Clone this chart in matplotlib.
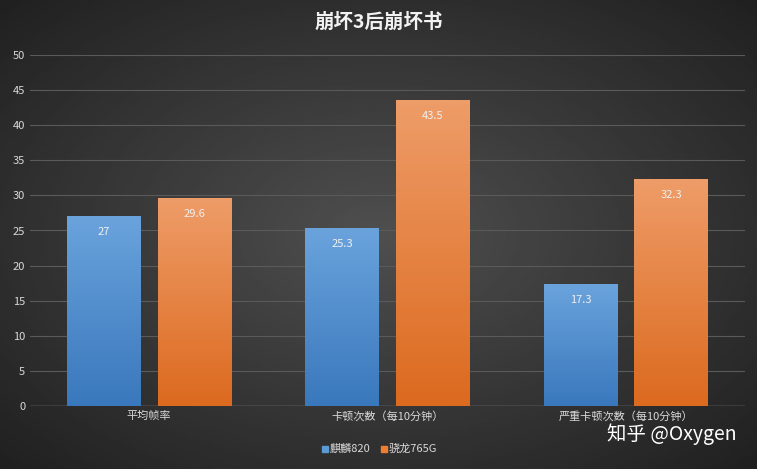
import numpy as np
import matplotlib.pyplot as plt
from matplotlib.patches import Rectangle
from matplotlib.colors import LinearSegmentedColormap

plt.rcParams['font.family'] = 'sans-serif'
plt.rcParams['font.sans-serif'] = ['Noto Sans CJK SC', 'Noto Sans CJK JP', 'DejaVu Sans']

categories = ['平均帧率', '卡顿次数（每10分钟）', '严重卡顿次数（每10分钟）']
series_names = ['麒麟820', '骁龙765G']
kirin = [27, 25.3, 17.3]
snap = [29.6, 43.5, 32.3]
yticks = [0, 5, 10, 15, 20, 25, 30, 35, 40, 45, 50]

fig = plt.figure(figsize=(7.57, 4.69), dpi=100)
# background radial gradient
bg = fig.add_axes([0, 0, 1, 1])
yy, xx = np.mgrid[-1:1:200j, -1:1:300j]
r = np.sqrt(xx**2 + yy**2)
bg.imshow(0.31 - 0.13 * r, cmap='gray', vmin=0, vmax=1, aspect='auto', extent=[0, 1, 0, 1])
bg.axis('off')

ax = fig.add_axes([30/757, 1 - 406/469, 715/757, 351/469])
ax.patch.set_alpha(0)
ax.set_yticks(yticks)
ax.grid(axis='y', color='#5a5a5a', lw=0.8)
ax.set_axisbelow(True)
for s in ax.spines.values():
    s.set_visible(False)
ax.axhline(0, color='#888888', lw=1)
ax.tick_params(colors='#d9d9d9', labelsize=8, length=0)
ax.set_xticks(range(3))
ax.set_xticklabels(categories)

x = np.arange(3)
w = 0.31
grad = np.linspace(1, 0, 100).reshape(-1, 1)
for vals, off, c1, c2 in [(kirin, -0.19, '#6aa3dc', '#3a78bd'),
                           (snap, 0.19, '#ee9c68', '#dc6a1f')]:
    cm = LinearSegmentedColormap.from_list('g', [c2, c1])
    for xi, v in zip(x, vals):
        x0 = xi + off - w / 2
        ax.imshow(grad, cmap=cm, aspect='auto', extent=[x0, x0 + w, 0, v], zorder=2)
        ax.text(xi + off, v - 2.2, f'{v:g}', ha='center', va='center', color='#f0f0f0', fontsize=8, zorder=3)
ax.set_xlim(-0.5, 2.5)
ax.set_ylim(0, 50)

fig.text(0.5, 1 - 22/469, '崩坏3后崩坏书', ha='center', va='center', color='#f2f2f2', fontsize=14, fontweight='bold')
fig.patches.append(Rectangle((322/757, 1 - 452/469), 6/757, 6/469, color='#5b9bd5', transform=fig.transFigure))
fig.text(330/757, 1 - 449/469, series_names[0], va='center', color='#d9d9d9', fontsize=8)
fig.patches.append(Rectangle((381/757, 1 - 452/469), 6/757, 6/469, color='#ed7d31', transform=fig.transFigure))
fig.text(389/757, 1 - 449/469, series_names[1], va='center', color='#d9d9d9', fontsize=8)
fig.text(737/757, 1 - 434/469, '知乎 @Oxygen', ha='right', va='center', color='white', fontsize=14)

fig.savefig('out.png', dpi=100)
